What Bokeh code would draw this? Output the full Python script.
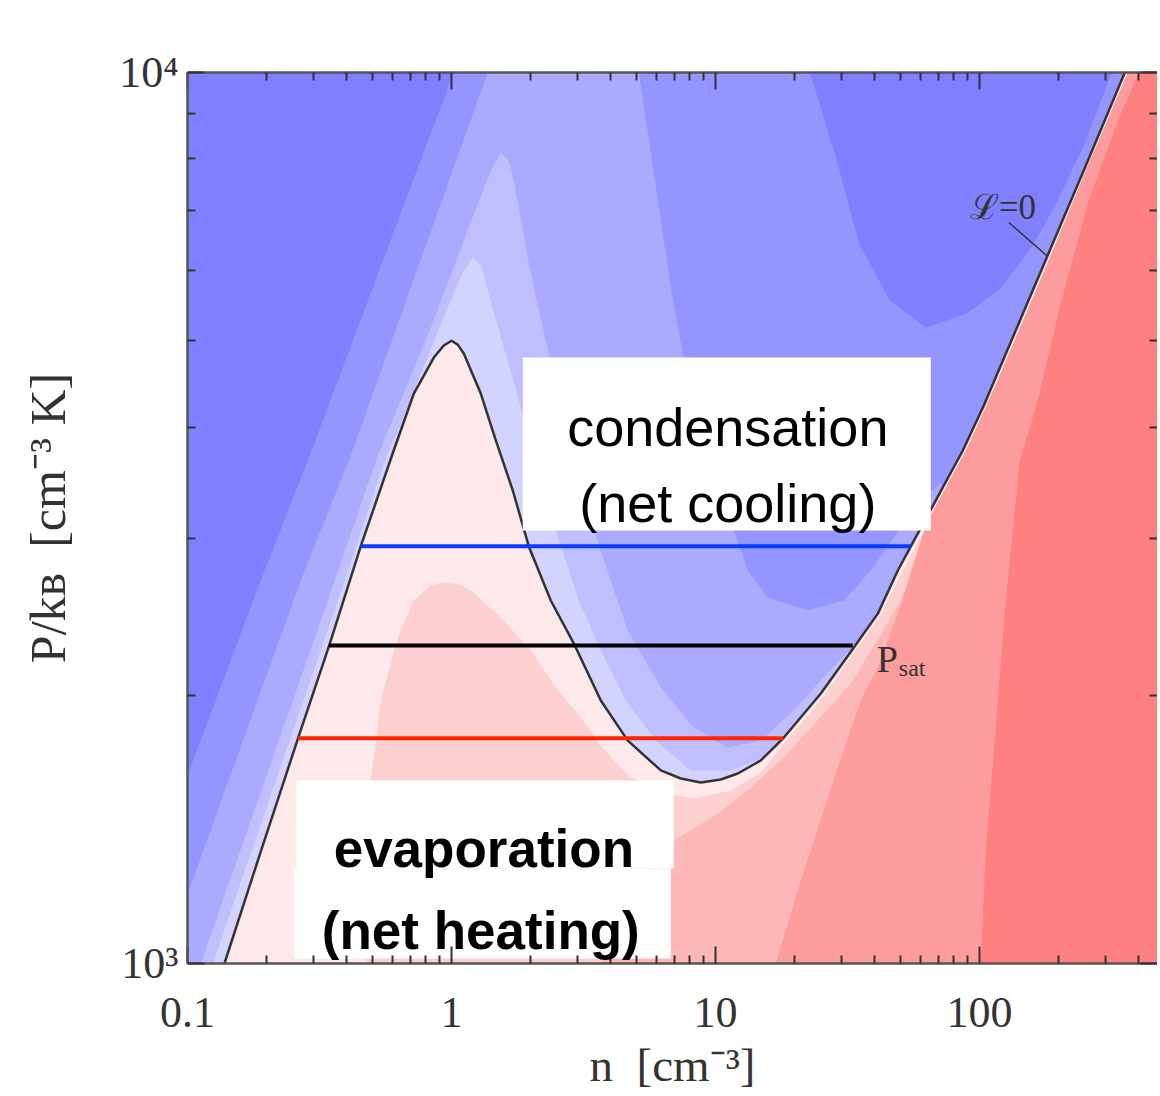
from bokeh.plotting import figure
from bokeh.models import LogAxis, FixedTicker, Label
from bokeh.embed import file_html
from bokeh.resources import INLINE

# ---------------- axis ranges / ticks ----------------
N_MIN, N_MAX = 0.1, 472.3
P_MIN, P_MAX = 1000.0, 10000.0
N_FAR = 3000.0  # beyond right edge, closes the heating regions

x_major = [0.1, 1, 10, 100]
x_labels = ["0.1", "1", "10", "100"]
x_minor = [0.2, 0.3, 0.4, 0.5, 0.6, 0.7, 0.8, 0.9, 2, 3, 4, 5, 6, 7, 8, 9,
           20, 30, 40, 50, 60, 70, 80, 90, 200, 300, 400]
y_major = [1000, 10000]
y_labels = ["10\u00b3", "10\u2074"]
y_minor = [2000, 3000, 4000, 5000, 6000, 7000, 8000, 9000]
x_title = "n\u2002[cm\u207b\u00b3]"
y_title = "P/k\u0299\u2002[cm\u207b\u00b3 K]"

# ---------------- L = 0 (thermal equilibrium) curve ----------------
curve_n = [0.138, 0.190, 0.262, 0.346, 0.453, 0.604, 0.720, 0.857, 0.935, 1.00,
           1.056, 1.113, 1.291, 1.472, 1.707, 1.963, 2.377, 2.931, 3.678, 4.654,
           6.207, 7.389, 8.797, 10.47, 12.15, 14.85, 18.15, 25.06, 33.42, 41.20,
           49.04, 54.93, 86.46, 103.8, 120.4, 179.8, 252.8, 355.2]
curve_P = [1000, 1339, 1788, 2286, 2938, 3765, 4362, 4787, 4938, 5000,
           4950, 4837, 4362, 3864, 3395, 2938, 2555, 2275, 1973, 1779,
           1647, 1613, 1596, 1609, 1634, 1690, 1793, 2009, 2263, 2470,
           2761, 2938, 3765, 4229, 4689, 6200, 7865, 10000]

# ---------------- cooling contour bands (blue) ----------------
cool_colors = ["#8080ff", "#9595ff", "#aaaaff", "#bfbfff", "#d3d3ff"]

cool0_left_n = [0.1, 1.02, 0.2905, 0.1895, 0.1]
cool0_left_P = [10000, 10000, 3717, 2691, 1626]

cool0_right_n = [22.79, 28.81, 34.91, 45.74, 62.61, 89.53, 120.4, 157.8, 198.0, 250.6, 317.0]
cool0_right_P = [10000, 7967, 6428, 5548, 5172, 5363, 5723, 6362, 7183, 8324, 10000]

cool2_n = [0.1, 0.1, 0.2686, 0.4155, 1.372, 5.124, 5.995, 6.832, 7.516, 9.190,
           11.73, 13.25, 15.78, 22.37, 30.62, 38.75, 47.36, 57.38, 71.36, 120.4]
cool2_P = [1000, 1195, 2691, 3717, 10000, 10000, 7314, 5649, 4837, 3765,
           3062, 2761, 2575, 2490, 2555, 2761, 3007, 3266, 3466, 1000]

cool3_n = [0.1123, 0.3614, 0.5257, 0.6259, 0.8348, 1.113, 1.409, 1.537, 1.648, 1.722,
           1.997, 2.317, 2.831, 3.459, 4.654, 6.207, 8.277, 11.13, 14.85, 19.80,
           26.64, 31.98, 37.10, 37.10]
cool3_P = [1000, 2691, 3717, 4207, 5172, 6478, 7762, 8134, 7967, 7564,
           5948, 4875, 3864, 3062, 2364, 2041, 1840, 1747, 1779, 1923,
           2121, 2245, 2245, 1000]

cool4_n = [0.1247, 0.3943, 0.5686, 0.6427, 0.7651, 0.9683, 1.113, 1.204, 1.303, 1.372,
           1.578, 1.830, 2.123, 2.484, 3.035, 3.678, 4.574, 5.942, 8.06, 11.43,
           14.85, 16.92, 16.92]
cool4_P = [1000, 2691, 3717, 4036, 4594, 5448, 5996, 6200, 6056, 5694,
           4913, 4207, 3547, 3062, 2555, 2245, 1973, 1779, 1647, 1647,
           1699, 1725, 1000]

# ---------------- heating contour bands (red) ----------------
heat_colors = ["#fde9e9", "#fdd0d0", "#fdb7b7", "#fd9c9c", "#ff8080"]

heat2_n = [0.4736, 0.4861, 0.4947, 0.5397, 0.6259, 0.7199, 0.8348, 0.9350, 1.066, 1.183,
           1.537, 1.997, 2.528, 3.089, 3.678, 4.654, 6.207, 8.277, 11.43, 14.85,
           19.29, 25.06, 32.55, 42.29, 51.23, 57.38, 90.3, 104.7, 125.8, 187.8,
           259.4, 371.1]
heat2_P = [1000, 1339, 1605, 1973, 2322, 2555, 2656, 2677, 2663, 2622,
           2445, 2245, 2025, 1888, 1756, 1626, 1556, 1532, 1564, 1638,
           1803, 1978, 2205, 2464, 2761, 2938, 3765, 4229, 4689, 6200,
           7865, 10000]

heat3_n = [3.678, 5.212, 6.950, 10.20, 13.61, 18.15, 23.99, 32.55, 40.48, 50.34,
           57.38, 65.39, 81.33, 105.7, 125.8, 186.2, 364.6]
heat3_P = [1000, 1265, 1374, 1473, 1576, 1703, 1864, 2062, 2292, 2555,
           2797, 3062, 3502, 4121, 4653, 6104, 10000]

heat4_n = [16.92, 21.04, 29.06, 35.52, 41.20, 50.34, 55.90, 63.16, 88.76, 106.6,
           123.6, 184.6, 257.2, 364.6]
heat4_P = [1000, 1239, 1660, 1973, 2149, 2522, 2797, 3126, 3765, 4229,
           4689, 6200, 7865, 10000]

heat5_n = [101.1, 105.7, 113.3, 125.8, 142.1, 166.3, 203.2, 257.2, 328.4, 401.2]
heat5_P = [1000, 1339, 1734, 2555, 3669, 4284, 5505, 7128, 8721, 10000]

# ---------------- isobars ----------------
isobar_P = [2940, 2275, 1790]
isobar_n_lo = [0.453, 0.343, 0.262]
isobar_n_hi = [54.9, 33.1, 18.0]
isobar_colors = ["#0a3cff", "#000000", "#ff2400"]

# ---------------- text boxes ----------------
cond_box = dict(left=1.862, right=65.39, bottom=3062, top=4787)
evap_box_top = dict(left=0.2571, right=6.950, bottom=1278, top=1605)
evap_box_bot = dict(left=0.2529, right=6.770, bottom=1013, top=1278)

# ---------------- figure ----------------
p = figure(x_axis_type="log", y_axis_type="log",
           x_range=(N_MIN, N_MAX), y_range=(P_MIN, P_MAX),
           frame_width=970, frame_height=891,
           min_border_left=187, min_border_right=0,
           min_border_top=72, min_border_bottom=0,
           toolbar_location=None, output_backend="svg",
           background_fill_color=cool_colors[1], border_fill_color="white",
           outline_line_color=None)
p.grid.visible = False

SERIF = "Liberation Serif"
INK = "#333333"


def style_axis(ax, ticks, minor, labels=None):
    ax.ticker = FixedTicker(ticks=ticks, minor_ticks=minor)
    ax.major_tick_in = 17
    ax.major_tick_out = 0
    ax.minor_tick_in = 8
    ax.minor_tick_out = 0
    ax.major_tick_line_color = INK
    ax.major_tick_line_width = 2
    ax.minor_tick_line_color = INK
    ax.minor_tick_line_width = 2
    ax.axis_line_color = "#555555"
    ax.axis_line_width = 2.5
    if labels is None:
        ax.major_label_text_font_size = "2px"
        ax.major_label_text_alpha = 0
        ax.major_label_standoff = 0
    else:
        ax.major_label_overrides = dict(zip(ticks, labels))
        ax.major_label_text_font = SERIF
        ax.major_label_text_font_size = "44px"
        ax.major_label_text_color = INK


xa = p.xaxis[0]
style_axis(xa, x_major, x_minor, x_labels)
xa.major_label_standoff = 34
xa.axis_label = x_title
xa.axis_label_text_font = SERIF
xa.axis_label_text_font_size = "47px"
xa.axis_label_text_font_style = "normal"
xa.axis_label_text_color = INK
xa.axis_label_standoff = 9

ya = p.yaxis[0]
style_axis(ya, y_major, y_minor, y_labels)
ya.major_label_standoff = 9
ya.axis_label = y_title
ya.axis_label_text_font = SERIF
ya.axis_label_text_font_size = "50px"
ya.axis_label_text_font_style = "normal"
ya.axis_label_text_color = INK
ya.axis_label_standoff = 40

top_ax = LogAxis()
style_axis(top_ax, x_major, x_minor)
p.add_layout(top_ax, "above")
right_ax = LogAxis()
style_axis(right_ax, y_major, y_minor)
right_ax.axis_line_color = None
p.add_layout(right_ax, "right")

# cooling bands (painter's order: outer to inner)
p.patch(cool0_left_n, cool0_left_P, fill_color=cool_colors[0], line_color=None)
p.patch(cool0_right_n, cool0_right_P, fill_color=cool_colors[0], line_color=None)
p.patch(cool2_n, cool2_P, fill_color=cool_colors[2], line_color=None)
p.patch(cool3_n, cool3_P, fill_color=cool_colors[3], line_color=None)
p.patch(cool4_n, cool4_P, fill_color=cool_colors[4], line_color=None)

# heating bands: everything below L=0, then stronger heating inside
p.patch(curve_n + [N_FAR, N_FAR], curve_P + [P_MAX, P_MIN], fill_color=heat_colors[0], line_color=None)
p.patch(heat2_n + [N_FAR, N_FAR], heat2_P + [P_MAX, P_MIN], fill_color=heat_colors[1], line_color=None)
p.patch(heat3_n + [N_FAR, N_FAR], heat3_P + [P_MAX, P_MIN], fill_color=heat_colors[2], line_color=None)
p.patch(heat4_n + [N_FAR, N_FAR], heat4_P + [P_MAX, P_MIN], fill_color=heat_colors[3], line_color=None)
p.patch(heat5_n + [N_FAR, N_FAR], heat5_P + [P_MAX, P_MIN], fill_color=heat_colors[4], line_color=None)

# L = 0 curve
p.line(curve_n, curve_P, line_color=INK, line_width=2.5, line_join="round")

# pointer to the curve for the "L=0" label
p.line([129.1, 181.4], [6786, 6216], line_color=INK, line_width=1.5)

# isobars
p.segment(x0=isobar_n_lo, y0=isobar_P, x1=isobar_n_hi, y1=isobar_P,
          line_color=isobar_colors, line_width=4)

# white boxes
for b in (cond_box, evap_box_top, evap_box_bot):
    p.quad(left=b["left"], right=b["right"], bottom=b["bottom"], top=b["top"],
           fill_color="white", line_color=None)


def lab(x, y, text, size, font=SERIF, align="left", style="normal", color=INK):
    p.add_layout(Label(x=x, y=y, text=text, text_font=font, text_font_size=size,
                       text_font_style=style, text_color=color, text_align=align,
                       text_baseline="alphabetic"))


# box texts
lab(11.13, 3996, "condensation", "54px", font="Liberation Sans", align="center", color="black")
lab(11.13, 3291, "(net cooling)", "54px", font="Liberation Sans", align="center", color="black")
lab(1.326, 1346, "evaporation", "53px", font="Liberation Sans", align="center", style="bold", color="black")
lab(1.291, 1089, "(net heating)", "53px", font="Liberation Sans", align="center", style="bold", color="black")

# curve annotations
lab(122.6, 7055, "\u2112=0", "35px", align="center")
lab(40.83, 2194, "P", "38px")
lab(49.47, 2144, "sat", "24px")

open("out.html", "w").write(file_html(p, INLINE))
